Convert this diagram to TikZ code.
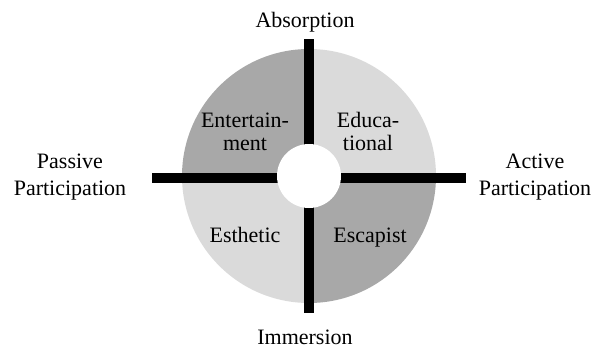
\documentclass[tikz,border=0pt]{standalone}
\usepackage{fontspec}
\setmainfont{Liberation Serif}
\usepackage{tikz}
\usetikzlibrary{positioning}

\definecolor{darkquad}{RGB}{168,168,168}
\definecolor{lightquad}{RGB}{218,218,218}

\tikzset{
  axisbar/.style={line width=10bp, black},
  label/.style={font=\fontsize{22bp}{27bp}\selectfont, align=center, inner sep=0pt, anchor=base},
  quadlabel/.style={font=\fontsize{22bp}{23bp}\selectfont, align=center, inner sep=0pt, anchor=base}
}

\begin{document}
\begin{tikzpicture}[x=1bp,y=1bp]
    \useasboundingbox (0,0) rectangle (600,350);
    % centre of the wheel
    \coordinate (o) at (309,174);
    % quadrants
    \fill[darkquad] (o) -- ++(90:127) arc (90:180:127) -- cycle;%entertainment
    \fill[lightquad] (o) -- ++(0:127) arc (0:90:127) -- cycle;%educational
    \fill[lightquad] (o) -- ++(180:127) arc (180:270:127) -- cycle;%esthetic
    \fill[darkquad] (o) -- ++(270:127) arc (270:360:127) -- cycle;%escapist
    % draw axes
    \coordinate (top) at (309,311);
    \coordinate (bottom) at (309,37);
    \coordinate (left) at (152,172);
    \coordinate (right) at (466,172);
    \draw[axisbar] (top) -- (bottom);%absorption-immersion
    \draw[axisbar] (left) -- (right);%passive-active
    \node[circle, fill=white, minimum size=64bp, inner sep=0pt] (hub) at (o) {};
    % labels axes
    \node[label] (absorption) at (305,323) {Absorption};
    \node[label] (immersion) at (305,6) {Immersion};
    \node[label] (passive) at (70,155) {Passive\\Participation};
    \node[label] (active) at (535,155) {Active\\Participation};
    % labels quadrants
    \node[quadlabel] (entertainment) at (245,200) {Entertain-\\ment};
    \node[quadlabel] (educational) at (368,200) {Educa-\\tional};
    \node[quadlabel] (esthetic) at (245,108) {Esthetic};
    \node[quadlabel] (escapist) at (370,108) {Escapist};
\end{tikzpicture}
\end{document}
